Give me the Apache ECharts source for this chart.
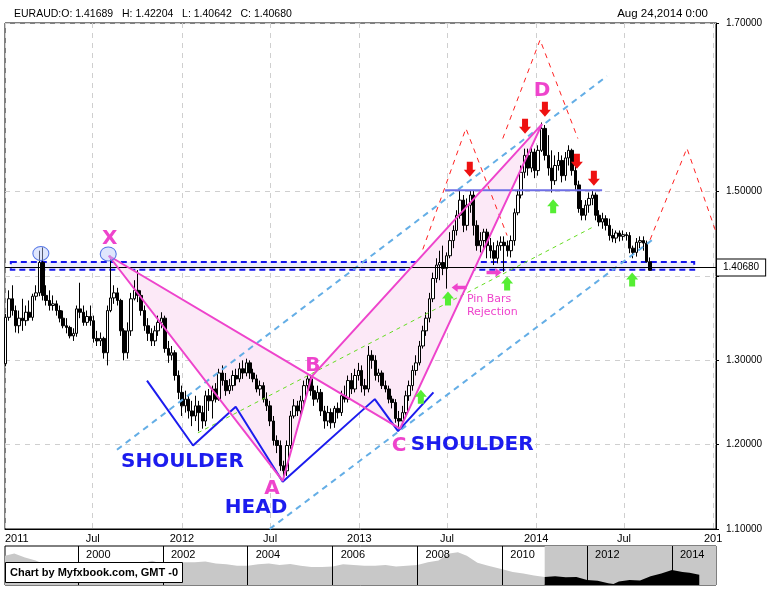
<!DOCTYPE html>
<html><head><meta charset="utf-8">
<script src="https://cdn.jsdelivr.net/npm/echarts@6/dist/echarts.min.js"></script>
<style>html,body{margin:0;padding:0;background:#fff}#c{width:781px;height:590px}</style>
</head><body><div id="c"></div>
<script>
// ---------- DATA ----------
const firstWeek = '2011-01-02';
// weekly candles: [open, close, low, high]
const ohlc = [
[1.296,1.351,1.293,1.355],[1.351,1.373,1.347,1.383],[1.373,1.359,1.353,1.389],[1.359,1.341,1.333,1.365],
[1.341,1.350,1.332,1.359],[1.350,1.347,1.335,1.373],[1.347,1.357,1.341,1.365],[1.357,1.351,1.347,1.371],
[1.351,1.376,1.347,1.379],[1.376,1.380,1.371,1.389],[1.380,1.416,1.376,1.430],[1.416,1.377,1.371,1.434],
[1.377,1.371,1.365,1.389],[1.371,1.365,1.359,1.383],[1.365,1.367,1.359,1.377],[1.367,1.359,1.353,1.371],
[1.359,1.350,1.345,1.365],[1.350,1.341,1.338,1.359],[1.341,1.339,1.332,1.350],[1.339,1.329,1.326,1.341],
[1.329,1.332,1.323,1.338],[1.332,1.361,1.328,1.365],[1.361,1.357,1.350,1.392],[1.357,1.345,1.341,1.365],
[1.345,1.352,1.341,1.359],[1.352,1.347,1.341,1.365],[1.347,1.326,1.321,1.353],[1.326,1.323,1.317,1.335],
[1.323,1.326,1.317,1.333],[1.326,1.309,1.302,1.328],[1.309,1.359,1.294,1.365],[1.359,1.374,1.357,1.424],
[1.374,1.380,1.367,1.389],[1.380,1.371,1.365,1.386],[1.371,1.335,1.329,1.373],[1.335,1.309,1.300,1.338],
[1.309,1.335,1.302,1.345],[1.335,1.373,1.329,1.380],[1.373,1.383,1.371,1.395],[1.383,1.377,1.369,1.407],
[1.377,1.359,1.353,1.383],[1.359,1.341,1.335,1.365],[1.341,1.332,1.323,1.350],[1.332,1.323,1.317,1.338],
[1.323,1.335,1.317,1.341],[1.335,1.345,1.329,1.353],[1.345,1.350,1.338,1.357],[1.350,1.314,1.309,1.353],
[1.314,1.306,1.297,1.323],[1.306,1.309,1.300,1.317],[1.309,1.282,1.276,1.312],[1.282,1.262,1.254,1.288],
[1.262,1.246,1.234,1.270],[1.246,1.254,1.238,1.264],[1.254,1.240,1.231,1.258],[1.240,1.234,1.222,1.252],
[1.234,1.246,1.228,1.258],[1.246,1.238,1.216,1.252],[1.238,1.228,1.219,1.246],[1.228,1.258,1.222,1.264],
[1.258,1.252,1.240,1.266],[1.252,1.266,1.231,1.270],[1.266,1.254,1.250,1.273],[1.254,1.285,1.252,1.290],
[1.285,1.276,1.270,1.294],[1.276,1.264,1.258,1.285],[1.264,1.270,1.260,1.278],[1.270,1.282,1.264,1.288],
[1.282,1.278,1.270,1.290],[1.278,1.290,1.274,1.297],[1.290,1.285,1.278,1.300],[1.285,1.297,1.281,1.302],
[1.297,1.285,1.278,1.300],[1.285,1.278,1.274,1.290],[1.278,1.266,1.262,1.283],[1.266,1.270,1.258,1.276],
[1.270,1.254,1.250,1.274],[1.254,1.246,1.240,1.262],[1.246,1.228,1.222,1.252],[1.228,1.205,1.199,1.234],
[1.205,1.199,1.190,1.211],[1.199,1.175,1.169,1.205],[1.175,1.169,1.159,1.181],[1.169,1.199,1.163,1.205],
[1.199,1.234,1.195,1.240],[1.234,1.246,1.231,1.254],[1.246,1.240,1.234,1.252],[1.240,1.252,1.234,1.258],
[1.252,1.270,1.246,1.276],[1.270,1.278,1.262,1.282],[1.278,1.264,1.258,1.283],[1.264,1.254,1.246,1.270],
[1.254,1.262,1.250,1.270],[1.262,1.240,1.234,1.266],[1.240,1.228,1.219,1.246],[1.228,1.238,1.222,1.246],
[1.238,1.226,1.219,1.243],[1.226,1.243,1.220,1.246],[1.243,1.238,1.231,1.250],[1.238,1.258,1.234,1.264],
[1.258,1.254,1.250,1.270],[1.254,1.276,1.250,1.282],[1.276,1.266,1.260,1.285],[1.266,1.282,1.262,1.290],
[1.282,1.288,1.276,1.297],[1.288,1.270,1.262,1.294],[1.270,1.266,1.258,1.278],[1.266,1.306,1.262,1.317],
[1.306,1.300,1.290,1.312],[1.300,1.282,1.276,1.306],[1.282,1.285,1.274,1.290],[1.285,1.270,1.266,1.288],
[1.270,1.266,1.262,1.276],[1.266,1.254,1.249,1.270],[1.254,1.250,1.243,1.258],[1.250,1.231,1.226,1.254],
[1.231,1.228,1.219,1.240],[1.228,1.238,1.222,1.246],[1.238,1.258,1.234,1.264],[1.258,1.270,1.252,1.276],
[1.270,1.288,1.264,1.294],[1.288,1.297,1.282,1.306],[1.297,1.317,1.294,1.323],[1.317,1.335,1.314,1.341],
[1.335,1.350,1.329,1.357],[1.350,1.373,1.345,1.380],[1.373,1.397,1.369,1.404],[1.397,1.413,1.392,1.421],
[1.413,1.416,1.395,1.430],[1.416,1.409,1.401,1.436],[1.409,1.424,1.385,1.428],[1.424,1.442,1.421,1.452],
[1.442,1.454,1.433,1.460],[1.454,1.472,1.448,1.478],[1.472,1.490,1.468,1.502],[1.490,1.460,1.452,1.496],
[1.460,1.484,1.454,1.492],[1.484,1.496,1.475,1.502],[1.496,1.460,1.448,1.502],[1.460,1.436,1.430,1.466],
[1.436,1.442,1.428,1.452],[1.442,1.452,1.433,1.456],[1.452,1.436,1.421,1.456],[1.436,1.430,1.421,1.445],
[1.430,1.421,1.413,1.440],[1.421,1.436,1.415,1.442],[1.436,1.440,1.430,1.447],[1.440,1.436,1.405,1.447],
[1.436,1.430,1.423,1.442],[1.430,1.442,1.422,1.448],[1.442,1.475,1.436,1.480],[1.475,1.496,1.472,1.502],
[1.496,1.523,1.492,1.531],[1.523,1.543,1.516,1.551],[1.543,1.528,1.519,1.551],[1.528,1.547,1.523,1.555],
[1.547,1.525,1.516,1.551],[1.525,1.549,1.519,1.555],[1.549,1.575,1.547,1.582],[1.575,1.543,1.537,1.579],
[1.543,1.528,1.519,1.567],[1.528,1.513,1.499,1.549],[1.513,1.531,1.508,1.543],[1.531,1.537,1.525,1.547],
[1.537,1.519,1.511,1.543],[1.519,1.540,1.513,1.547],[1.540,1.549,1.531,1.555],[1.549,1.525,1.519,1.551],
[1.525,1.508,1.502,1.531],[1.508,1.480,1.475,1.513],[1.480,1.472,1.466,1.490],[1.472,1.484,1.466,1.490],
[1.484,1.492,1.475,1.499],[1.492,1.496,1.484,1.502],[1.496,1.472,1.466,1.499],[1.472,1.464,1.459,1.478],
[1.464,1.468,1.456,1.475],[1.468,1.460,1.454,1.472],[1.460,1.448,1.442,1.468],[1.448,1.445,1.440,1.456],
[1.445,1.451,1.439,1.454],[1.451,1.447,1.441,1.454],[1.447,1.449,1.442,1.454],[1.449,1.448,1.442,1.452],
[1.448,1.433,1.427,1.452],[1.433,1.428,1.421,1.436],[1.428,1.440,1.423,1.445],[1.440,1.442,1.433,1.447],
[1.442,1.439,1.430,1.447],[1.439,1.41689,1.416,1.442],[1.41689,1.40680,1.40642,1.42204]
];
const lastClose = 1.40680;
const headerText = 'EURAUD:O: 1.41689   H: 1.42204   L: 1.40642   C: 1.40680';
const dateText = 'Aug 24,2014 0:00';
const creditText = 'Chart by Myfxbook.com, GMT -0';

const xTickDates = ['2011-01-01','2011-07-01','2012-01-01','2012-07-01','2013-01-01','2013-07-01','2014-01-01','2014-07-01','2015-01-01'];
const xTickLabels = ['2011','Jul','2012','Jul','2013','Jul','2014','Jul','201'];
const yGridValues = [1.1, 1.2, 1.3, 1.4, 1.5, 1.7];
const yLabelValues = [1.1, 1.2, 1.3, 1.5, 1.7];
const navTickDates = ['2000-01-01','2002-01-01','2004-01-01','2006-01-01','2008-01-01','2010-01-01','2012-01-01','2014-01-01'];
const navTickLabels = ['2000','2002','2004','2006','2008','2010','2012','2014'];

// annotations (date, price)
const supportZone = [['2011-01-13',1.4166],['2014-11-23',1.4074]];
const ptX = ['2011-08-03',1.424], ptA = ['2012-07-27',1.157], ptB = ['2012-09-25',1.281],
      ptC = ['2013-03-26',1.219], ptD = ['2014-01-13',1.580];
const headShoulders = [['2011-10-21',1.276],['2012-01-24',1.199],['2012-04-21',1.245],['2012-07-27',1.156],
  ['2013-02-02',1.254],['2013-03-22',1.216],['2013-06-03',1.262]];
const channelUpper = [['2011-08-20',1.194],['2014-05-27',1.637]];
const channelLower = [['2012-06-30',1.100],['2014-08-29',1.443]];
const trendGreen = [['2012-02-03',1.214],['2014-04-28',1.458]];
const redZig1 = [['2013-05-12',1.4315],['2013-08-09',1.575],['2013-11-02',1.448]];
const redZig2 = [['2013-10-24',1.563],['2014-01-09',1.680],['2014-03-28',1.563]];
const redZig3 = [['2014-08-24',1.443],['2014-11-08',1.5515],['2015-01-07',1.452]];
const resistance = [['2013-06-27',1.5016],['2014-05-17',1.5016]];
const redArrows = [['2013-08-17',1.5265],['2013-12-09',1.5776],['2014-01-19',1.5978],['2014-03-26',1.536],['2014-04-30',1.5158]];
const greenArrows = [['2013-05-08',1.2568],['2013-07-03',1.3732],['2013-11-02',1.3911],['2014-02-05',1.4826],['2014-07-18',1.3958]];
const pinLeft = [['2013-07-26',1.3863]];
const pinRight = [['2013-10-06',1.4041]];
const circles = [['2011-03-16',1.4267],['2011-08-02',1.4261]];
const pinText = ['2013-08-11',1.3643];
const blueTexts = [['SHOULDER','2012-01-02',1.1796],['HEAD','2012-06-02',1.1249],['SHOULDER','2013-08-22',1.1998]];
const pinkTexts = [['X','2011-08-05',1.4445],['A','2012-07-05',1.1475],['B','2012-09-27',1.2937],['C','2013-03-24',1.1986],['D','2014-01-13',1.6192]];

// navigator history (long-term)
const navHistory = [['1998-04-12',1.98],['1998-07-01',2.05],['1998-10-01',1.93],['1999-01-01',1.85],['1999-04-01',1.72],
 ['1999-07-01',1.66],['1999-10-01',1.62],['2000-01-01',1.60],['2000-04-01',1.60],['2000-07-01',1.58],['2000-10-01',1.66],
 ['2001-01-01',1.74],['2001-04-01',1.80],['2001-07-01',1.76],['2001-10-01',1.84],['2002-01-01',1.74],['2002-04-01',1.72],
 ['2002-07-01',1.80],['2002-10-01',1.80],['2003-01-01',1.82],['2003-04-01',1.76],['2003-07-01',1.74],['2003-10-01',1.70],
 ['2004-01-01',1.70],['2004-04-01',1.74],['2004-07-01',1.76],['2004-10-01',1.72],['2005-01-01',1.75],['2005-04-01',1.70],
 ['2005-07-01',1.66],['2005-10-01',1.66],['2006-01-01',1.68],['2006-04-01',1.74],['2006-07-01',1.72],['2006-10-01',1.70],
 ['2007-01-01',1.70],['2007-04-01',1.72],['2007-07-01',1.68],['2007-10-01',1.70],['2008-01-01',1.72],['2008-04-01',1.80],
 ['2008-07-01',1.85],['2008-10-01',2.05],['2008-12-15',2.08],['2009-03-01',1.98],['2009-06-01',1.78],['2009-09-01',1.70],
 ['2010-01-01',1.60],['2010-04-01',1.52],['2010-07-01',1.48],['2010-10-01',1.42],['2011-01-01',1.38]];
const navWindow = [['2011-01-01',1.38],['2011-04-01',1.40],['2011-07-01',1.37],['2011-10-01',1.38],['2012-01-01',1.29],
 ['2012-04-01',1.27],['2012-07-01',1.20],['2012-08-15',1.18],['2012-10-01',1.25],['2013-01-01',1.29],['2013-04-01',1.28],
 ['2013-07-01',1.40],['2013-10-01',1.48],['2014-01-01',1.58],['2014-04-01',1.52],['2014-06-01',1.50],['2014-08-24',1.44]];

// ---------- CHART ----------
const P = s => Date.parse(s);
const pt = a => [P(a[0]), a[1]];
const DAY = 864e5;
const t0 = P(firstWeek);
const candles = ohlc.map((r, i) => [t0 + i * 7 * DAY, r[0], r[1], r[2], r[3]]);

const PINK = '#ee44cc', BLUE = '#1c1cee', LBLUE = '#64aee6', GREEN = '#66dd22', RED = '#ff2222';
const FONT = 'Liberation Sans';

function lineSeries(name, pts, style, z) {
  return { type: 'line', name, xAxisIndex: 0, yAxisIndex: 0, data: pts.map(pt), symbol: 'none',
    silent: true, z: z || 4, lineStyle: style, animation: false };
}
function marks(data, symbol, size, color, z) {
  return { type: 'scatter', xAxisIndex: 0, yAxisIndex: 0, silent: true, z: z || 6, data: data.map(pt),
    symbol, symbolSize: size, itemStyle: { color, opacity: 1 } };
}
function texts(data, color, fontSize, z) {
  return { type: 'scatter', xAxisIndex: 0, yAxisIndex: 0, silent: true, z: z || 7, symbolSize: 1,
    itemStyle: { color: 'rgba(0,0,0,0)', opacity: 1 },
    data: data.map(t => ({ value: [P(t[1]), t[2]], name: t[0] })),
    label: { show: true, position: 'inside', formatter: '{b}', color, fontSize, fontWeight: 'bold', fontFamily: 'DejaVu Sans' } };
}

const chart = echarts.init(document.getElementById('c'), null, { renderer: 'canvas' });
const xTicks = xTickDates.map(P);
const navTicks = navTickDates.map(P);

const option = {
  animation: false,
  backgroundColor: '#fff',
  textStyle: { fontFamily: FONT },
  title: [
    { text: headerText, left: 14, top: 9, padding: 0, textStyle: { fontSize: 10.5, fontWeight: 'normal', color: '#000', fontFamily: FONT } },
    { text: dateText, right: 73, top: 8, padding: 0, textStyle: { fontSize: 11.5, fontWeight: 'normal', color: '#000', fontFamily: FONT } },
    { text: creditText, left: 5, top: 562, backgroundColor: '#fff', borderColor: '#000', borderWidth: 1,
      padding: [5, 5, 5, 5], textStyle: { fontSize: 11, fontWeight: 'bold', color: '#000', fontFamily: FONT }, z: 20 }
  ],
  grid: [
    { left: 5, right: 65, top: 23, height: 506, show: true, borderColor: '#000', borderWidth: 1, backgroundColor: '#fff' },
    { left: 5, right: 65, top: 546, height: 39, show: true, borderColor: '#000', borderWidth: 1, backgroundColor: '#fff' }
  ],
  xAxis: [
    { type: 'value', gridIndex: 0, min: P('2011-01-01'), max: P('2015-01-07'),
      axisLine: { show: true, lineStyle: { color: '#000' } },
      axisTick: { show: false, customValues: xTicks },
      axisLabel: { customValues: xTicks, color: '#000', fontSize: 11, fontFamily: FONT, margin: 4,
        alignMinLabel: 'left', hideOverlap: false,
        formatter: v => { const k = xTicks.indexOf(v); return k >= 0 ? xTickLabels[k] : ''; } },
      splitLine: { show: true, lineStyle: { color: '#cfcfcf', type: [5, 5], width: 1 } } },
    { type: 'value', gridIndex: 1, position: 'top', min: P('1998-04-12'), max: P('2015-01-15'), z: 10,
      axisLine: { show: false }, axisTick: { show: false, customValues: navTicks },
      axisLabel: { customValues: navTicks, inside: true, color: '#000', fontSize: 11, fontFamily: FONT, margin: 3,
        align: 'left', verticalAlign: 'top', padding: [0, 0, 0, 8],
        formatter: v => { const k = navTicks.indexOf(v); return k >= 0 ? navTickLabels[k] : ''; } },
      splitLine: { show: true, lineStyle: { color: '#000', width: 1 } } }
  ],
  yAxis: [
    { type: 'value', gridIndex: 0, position: 'right', min: 1.1, max: 1.7,
      axisLine: { show: true, lineStyle: { color: '#000', width: 1 } },
      axisTick: { show: true, length: 3, customValues: yGridValues, lineStyle: { color: '#000' } },
      axisLabel: { customValues: yLabelValues, color: '#000', fontSize: 10, fontFamily: FONT, margin: 10, formatter: v => v.toFixed(5) },
      splitLine: { show: true, lineStyle: { color: '#cfcfcf', type: [5, 5] } } },
    { type: 'value', gridIndex: 1, min: 1.15, max: 2.26, show: false, splitLine: { show: false } }
  ],
  series: [
    { type: 'custom', xAxisIndex: 0, yAxisIndex: 0, silent: true, z: 1, data: [pt(supportZone[0])],
      renderItem: (params, api) => {
        const a = api.coord(pt(supportZone[0])), b = api.coord(pt(supportZone[1]));
        return { type: 'rect', shape: { x: a[0], y: a[1], width: b[0] - a[0], height: b[1] - a[1] },
          style: { fill: '#ececfd', stroke: '#1515ee', lineWidth: 2, lineDash: [6, 4] } };
      } },
    { type: 'custom', xAxisIndex: 0, yAxisIndex: 0, silent: true, z: 1, data: [pt(ptX), pt(ptB)],
      renderItem: (params, api) => {
        const tri = params.dataIndex === 0 ? [ptX, ptA, ptB] : [ptB, ptC, ptD];
        return { type: 'polygon', shape: { points: tri.map(p => api.coord(pt(p))) },
          style: { fill: '#fce9f7' } };
      } },
    { type: 'candlestick', name: 'EURAUD', xAxisIndex: 0, yAxisIndex: 0, data: candles, barWidth: 3, z: 3,
      encode: { x: 0, y: [1, 2, 3, 4] },
      itemStyle: { color: '#ffffff', color0: '#000000', borderColor: '#000000', borderColor0: '#000000', borderWidth: 1 },
      markLine: { silent: true, symbol: ['none', 'none'], animation: false,
        lineStyle: { color: '#000', width: 1, type: 'solid' },
        label: { show: true, position: 'end', distance: 1, formatter: lastClose.toFixed(5), color: '#000', fontSize: 10,
          fontFamily: FONT, backgroundColor: '#fff', borderColor: '#000', borderWidth: 1, padding: [3, 6, 3, 6] },
        data: [{ yAxis: lastClose }] } },
    lineSeries('channelUpper', channelUpper, { color: LBLUE, width: 2, type: [6, 5] }, 4),
    lineSeries('channelLower', channelLower, { color: LBLUE, width: 2, type: [6, 5] }, 4),
    lineSeries('trendGreen', trendGreen, { color: GREEN, width: 1, type: [4, 4] }, 4),
    lineSeries('redZig1', redZig1, { color: RED, width: 1, type: [5, 5] }, 4),
    lineSeries('redZig2', redZig2, { color: RED, width: 1, type: [5, 5] }, 4),
    lineSeries('redZig3', redZig3, { color: RED, width: 1, type: [5, 5] }, 4),
    lineSeries('resistance', resistance, { color: '#6f6fe6', width: 2 }, 4),
    lineSeries('headShoulders', headShoulders, { color: BLUE, width: 2 }, 5),
    lineSeries('XABCD', [ptX, ptA, ptB, ptC, ptD], { color: PINK, width: 2 }, 5),
    lineSeries('XBD', [ptX, ptB, ptD], { color: PINK, width: 2 }, 5),
    { type: 'scatter', xAxisIndex: 0, yAxisIndex: 0, silent: true, z: 6, data: circles.map(pt),
      symbol: 'circle', symbolSize: [16, 14], itemStyle: { color: 'rgba(185,200,250,0.45)', borderColor: '#5577e6', borderWidth: 1, opacity: 1 } },
    marks(redArrows, 'path://M3,0 L9,0 L9,8 L12,8 L6,15 L0,8 L3,8 Z', [12, 15], '#ee1111'),
    marks(greenArrows, 'path://M6,0 L12,7 L9,7 L9,14 L3,14 L3,7 L0,7 Z', [12, 14], '#55ee33'),
    marks(pinLeft, 'path://M0,5 L6,0 L6,3 L15,3 L15,7 L6,7 L6,10 Z', [15, 9], PINK),
    marks(pinRight, 'path://M15,5 L9,0 L9,3 L0,3 L0,7 L9,7 L9,10 Z', [15, 9], PINK),
    { type: 'scatter', xAxisIndex: 0, yAxisIndex: 0, silent: true, z: 7, symbolSize: 1, itemStyle: { color: 'rgba(0,0,0,0)', opacity: 1 },
      data: [{ value: pt(pinText) }],
      label: { show: true, position: 'inside', align: 'left', formatter: 'Pin Bars\nRejection', color: PINK,
        fontSize: 11, fontFamily: 'DejaVu Sans', lineHeight: 13 } },
    texts(blueTexts, BLUE, 20),
    texts(pinkTexts, PINK, 20),
    { type: 'line', xAxisIndex: 1, yAxisIndex: 1, silent: true, symbol: 'none', z: 2, data: navHistory.map(pt),
      lineStyle: { width: 0 }, areaStyle: { color: '#c8c8c8', opacity: 1 },
      markArea: { silent: true, itemStyle: { color: '#c8c8c8' }, data: [[{ xAxis: P('2011-01-01') }, { xAxis: P('2015-01-15') }]] } },
    { type: 'line', xAxisIndex: 1, yAxisIndex: 1, silent: true, symbol: 'none', z: 3, data: navWindow.map(pt),
      lineStyle: { width: 0 }, areaStyle: { color: '#000', opacity: 1 } }
  ]
};
chart.setOption(option);
</script></body></html>
